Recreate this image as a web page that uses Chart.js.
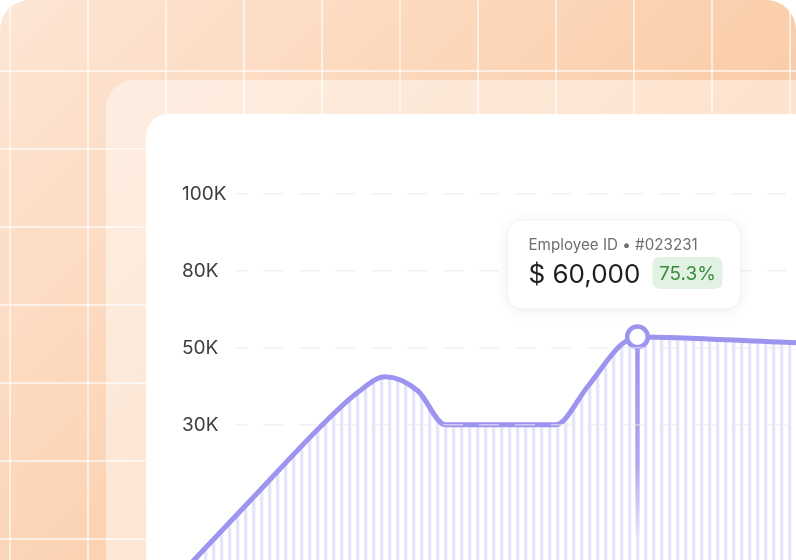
<!DOCTYPE html>
<html>
<head>
<meta charset="utf-8">
<script src="https://cdn.jsdelivr.net/npm/chart.js@4/dist/chart.umd.min.js"></script>
<style>
  html, body { margin: 0; padding: 0; }
  body { width: 796px; height: 560px; overflow: hidden; position: relative; background: #fff; font-family: Inter, sans-serif; }
  .bg {
    position: absolute; left: 0; top: 0; width: 796px; height: 620px;
    border-radius: 30px 30px 0 0;
    background-image:
      linear-gradient(to right, rgba(255,255,255,0.6) 2px, transparent 2px),
      linear-gradient(to bottom, rgba(255,255,255,0.6) 2px, transparent 2px),
      linear-gradient(135deg, #fde6d5 0%, #fbcfac 55%, #fac49b 100%);
    background-size: 78px 78px, 78px 78px, 100% 100%;
    background-position: 9px 0, 0 -8px, 0 0;
  }
  .panel {
    position: absolute; left: 106px; top: 80px; width: 800px; height: 600px;
    border-radius: 28px; background: rgba(255,255,255,0.45);
  }
  .card {
    position: absolute; left: 146px; top: 114px; width: 700px; height: 500px;
    border-radius: 22px; background: #fff; overflow: hidden;
  }
  .card canvas { position: absolute; left: 0; top: 0; }
</style>
</head>
<body>
<div class="bg"></div>
<div class="panel"></div>
<div class="card"><canvas id="salaryChart" width="700" height="500"></canvas></div>
<script>
// valores (dias x salário)
const days = [-11, 4, 16, 22, 27, 33, 38, 48, 58, 64, 70, 73, 102, 121];
const salaries = [0, 17000, 30600, 38400, 42500, 38800, 30000, 30000, 30000, 40100, 51200, 54300, 52000, 51200];

// eixo Y: rótulos igualmente espaçados, mas não lineares
const tickValues = [30000, 50000, 80000, 100000];
const tickLabels = ['30K', '50K', '80K', '100K'];
const anchorValues = [0, 30000, 50000, 80000, 100000];
const anchorLevels = [-1, 1, 2, 3, 4];

// ponto destacado + tooltip
const markIndex = 11;
const tipTitle = 'Employee ID \u2022 #023231';
const tipValue = '$ 60,000';
const tipBadge = '75.3%';

function toLevel(v) {
    for (let i = 1; i < anchorValues.length; i++) {
        if (v <= anchorValues[i] || i === anchorValues.length - 1) {
            const a = anchorValues[i - 1], b = anchorValues[i];
            const la = anchorLevels[i - 1], lb = anchorLevels[i];
            return la + (v - a) / (b - a) * (lb - la);
        }
    }
}

const ctx = document.getElementById('salaryChart').getContext('2d');

// padrão de listras verticais para o preenchimento
const stripe = document.createElement('canvas');
stripe.width = 8; stripe.height = 4;
const sctx = stripe.getContext('2d');
sctx.fillStyle = '#e7e5fc';
sctx.fillRect(2, 0, 3.3, 4);
const stripePattern = ctx.createPattern(stripe, 'repeat');

// linhas de grade só entre o rótulo e a borda direita
const gridColor = ctx.createLinearGradient(0, 0, 700, 0);
gridColor.addColorStop(0, 'rgba(232,232,238,0)');
gridColor.addColorStop(0.1285, 'rgba(232,232,238,0)');
gridColor.addColorStop(0.1286, 'rgba(232,232,238,0.65)');
gridColor.addColorStop(0.9142, 'rgba(232,232,238,0.65)');
gridColor.addColorStop(0.9143, 'rgba(232,232,238,0)');
gridColor.addColorStop(1, 'rgba(232,232,238,0)');

const lineColor = '#9c94ee';

const highlightPlugin = {
    id: 'highlight',
    afterDatasetsDraw(chart) {
        const pt = chart.getDatasetMeta(0).data[markIndex];
        const c = chart.ctx;
        const y0 = pt.y + 12, y1 = pt.y + 203;
        const g = c.createLinearGradient(0, y0, 0, y1);
        g.addColorStop(0, 'rgba(156,148,238,1)');
        g.addColorStop(0.6, 'rgba(156,148,238,0.75)');
        g.addColorStop(1, 'rgba(156,148,238,0)');
        c.save();
        c.strokeStyle = g;
        c.lineWidth = 4.5;
        c.beginPath();
        c.moveTo(pt.x, y0);
        c.lineTo(pt.x, y1);
        c.stroke();
        c.restore();
    },
    afterDraw(chart) {
        const pt = chart.getDatasetMeta(0).data[markIndex];
        const c = chart.ctx;
        const bx = pt.x - 130, by = pt.y - 117, bw = 233, bh = 89;
        c.save();
        c.shadowColor = 'rgba(0,0,0,0.07)';
        c.shadowBlur = 14;
        c.shadowOffsetY = 2;
        c.fillStyle = '#fff';
        c.beginPath();
        c.roundRect(bx, by, bw, bh, 14);
        c.fill();
        c.shadowColor = 'transparent';
        c.strokeStyle = '#f1f1f1';
        c.lineWidth = 1;
        c.stroke();

        c.textBaseline = 'alphabetic';
        c.textAlign = 'left';
        c.fillStyle = '#6f6f6f';
        c.font = '15.2px Inter';
        c.fillText(tipTitle, bx + 21, by + 30);

        c.fillStyle = '#1e1e1e';
        c.font = '26px Inter';
        c.fillText(tipValue, bx + 21, by + 63);

        c.fillStyle = '#e1f2e3';
        c.beginPath();
        c.roundRect(bx + 145, by + 37, 70, 32, 7);
        c.fill();
        c.fillStyle = '#3b8a40';
        c.font = '19px Inter';
        c.textAlign = 'center';
        c.fillText(tipBadge, bx + 180, by + 60);
        c.restore();
    }
};

Chart.defaults.font.family = 'Inter';

new Chart(ctx, {
    type: 'line',
    data: {
        datasets: [{
            data: days.map((d, i) => ({ x: d, y: toLevel(salaries[i]) })),
            borderColor: lineColor,
            borderWidth: 5,
            borderCapStyle: 'round',
            borderJoinStyle: 'round',
            backgroundColor: stripePattern,
            fill: 'start',
            cubicInterpolationMode: 'monotone',
            clip: false,
            pointRadius: c => c.dataIndex === markIndex ? 10.3 : 0,
            pointHoverRadius: c => c.dataIndex === markIndex ? 10.3 : 0,
            pointBackgroundColor: '#fff',
            pointBorderColor: lineColor,
            pointBorderWidth: 4.5
        }]
    },
    options: {
        responsive: false,
        animation: false,
        events: [],
        layout: { padding: { left: 1, top: 34, right: 0, bottom: 20 } },
        scales: {
            x: { type: 'linear', min: -10, max: 111, display: false },
            y: {
                type: 'linear',
                min: -1.2,
                max: 4.6,
                afterBuildTicks: axis => {
                    axis.ticks = tickValues.map(v => ({ value: toLevel(v) }));
                },
                afterFit: axis => { axis.width = 35; },
                ticks: {
                    callback: (val, i) => tickLabels[i],
                    mirror: true,
                    padding: 0,
                    color: '#3d3d42',
                    font: { size: 19 }
                },
                grid: {
                    color: gridColor,
                    lineWidth: 1.5,
                    drawTicks: false,
                    z: 1
                },
                border: { display: false, dash: [20, 16], dashOffset: 27 }
            }
        },
        plugins: {
            legend: { display: false },
            tooltip: { enabled: false }
        }
    },
    plugins: [highlightPlugin]
});
</script>
</body>
</html>
